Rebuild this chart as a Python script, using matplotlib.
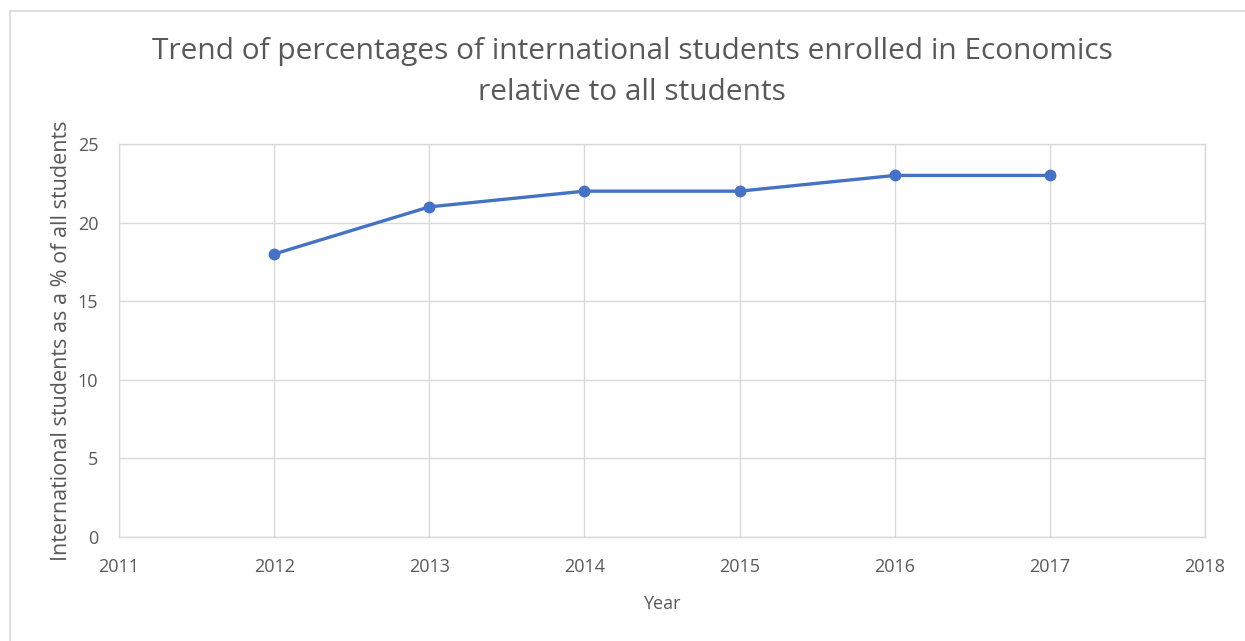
import matplotlib.pyplot as plt
from matplotlib.lines import Line2D

years = [2012, 2013, 2014, 2015, 2016, 2017]
percent = [18, 21, 22, 22, 23, 23]
x_ticks = [2011, 2012, 2013, 2014, 2015, 2016, 2017, 2018]
y_ticks = [0, 5, 10, 15, 20, 25]

plt.rcParams['font.family'] = ['Open Sans', 'DejaVu Sans']
text_col = '#595959'
grid_col = '#d9d9d9'

fig = plt.figure(figsize=(12.45, 6.41), dpi=100)
ax = fig.add_axes([119 / 1245, 1 - 537 / 641, (1205 - 119) / 1245, (537 - 144) / 641])

# outer chart border (only top and left visible in the crop)
bx, by = 9.5 / 1245, 1 - 10.5 / 641
fig.lines.append(Line2D([bx, 1], [by, by], transform=fig.transFigure,
                        color=grid_col, linewidth=1.2))
fig.lines.append(Line2D([bx, bx], [0, by], transform=fig.transFigure,
                        color=grid_col, linewidth=1.2))

ax.plot(years, percent, color='#4472C4', linewidth=2.4, marker='o',
        markersize=7.5, zorder=3)

ax.set_xlim(2011, 2018)
ax.set_ylim(0, 25)
ax.set_xticks(x_ticks)
ax.set_yticks(y_ticks)
ax.grid(True, color=grid_col, linewidth=1)
ax.set_axisbelow(True)
for s in ax.spines.values():
    s.set_color(grid_col)
    s.set_linewidth(1)
ax.tick_params(length=0, colors=text_col, labelsize=13)
ax.tick_params(axis='y', pad=15)
ax.tick_params(axis='x', pad=15)

ax.set_xlabel('Year', color=text_col, fontsize=13, labelpad=14)
ax.set_ylabel('International students as a % of all students', color=text_col,
              fontsize=15.5, labelpad=4)
fig.suptitle('Trend of percentages of international students enrolled in Economics\nrelative to all students',
             x=632 / 1245, y=1 - 37 / 641, color=text_col, fontsize=21.5,
             linespacing=1.55, va='top')

fig.savefig('out.png', dpi=100)
